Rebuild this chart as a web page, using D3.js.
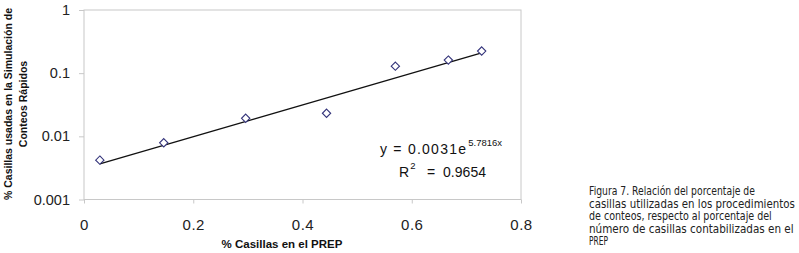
<!DOCTYPE html>
<html>
<head>
    <meta charset="utf-8">
    <script src="https://d3js.org/d3.v7.min.js"></script>
    <style>
        body { margin: 0; background: #fff; }
        .tick text { font-family: Arial, "Liberation Sans", sans-serif; fill: #222; }
    </style>
</head>
<body>
<div id="chart"></div>

<script>

    // data
    var pctPrep = [0.029, 0.146, 0.296, 0.444, 0.570, 0.667, 0.728];
    var pctConteos = [0.0042, 0.0079, 0.0193, 0.0232, 0.129, 0.161, 0.224];
    var xTicks = [0, 0.2, 0.4, 0.6, 0.8];
    var yTicks = [0.001, 0.01, 0.1, 1];
    var yTickLabels = ["0.001", "0.01", "0.1", "1"];

    // exponential trendline as printed on the chart
    var trendA = 0.0031;
    var trendB = 5.7816;
    var rSquared = "0.9654";

    var captionLines = [
        "Figura 7. Relación del porcentaje de",
        "casillas utilizadas en los procedimientos",
        "de conteos, respecto al porcentaje del",
        "número de casillas contabilizadas en el",
        "PREP"
    ];
    // printed width of each caption line, px
    var captionWidths = [166, 206, 183, 205, 19];

    var width = 799, height = 253;
    var plot = { left: 84, right: 521, top: 10, bottom: 199.5 };

    var xScale = d3.scaleLinear()
        .domain([0, 0.8])
        .range([plot.left, plot.right]);

    var yScale = d3.scaleLog()
        .domain([0.001, 1])
        .range([plot.bottom, plot.top]);

    var svg = d3.select('#chart').append('svg')
        .attr('width', width)
        .attr('height', height)
        .style('display', 'block');

    svg.append('rect')
        .attr('width', width).attr('height', height).attr('fill', '#fff');

    // plot area border
    svg.append('rect')
        .attr('x', plot.left).attr('y', plot.top)
        .attr('width', plot.right - plot.left)
        .attr('height', plot.bottom - plot.top)
        .attr('fill', 'none')
        .attr('stroke', '#c8c8c8')
        .attr('stroke-width', 1);

    var yAxis = svg.append('g')
        .attr('transform', 'translate(' + plot.left + ',0)')
        .call(d3.axisLeft(yScale)
            .tickValues(yTicks)
            .tickFormat(function(d, i) { return yTickLabels[i]; })
            .tickSize(5)
            .tickSizeOuter(0)
            .tickPadding(9));
    yAxis.select('.domain').remove();
    yAxis.selectAll('line').attr('stroke', '#c8c8c8');
    yAxis.selectAll('text').style('font-size', '14.5px');

    var xAxis = svg.append('g')
        .attr('transform', 'translate(0,' + plot.bottom + ')')
        .call(d3.axisBottom(xScale)
            .tickValues(xTicks)
            .tickFormat(function(d) { return d === 0 ? "0" : d3.format('.1f')(d); })
            .tickSize(4)
            .tickSizeOuter(0)
            .tickPadding(16));
    xAxis.select('.domain').remove();
    xAxis.selectAll('line').attr('stroke', '#c8c8c8');
    xAxis.selectAll('text').style('font-size', '15px').style('letter-spacing', '0.5px');

    // trendline (straight on a log axis), from first to last x
    var xExtent = d3.extent(pctPrep);
    var trend = xExtent.map(function(x) { return [x, trendA * Math.exp(trendB * x)]; });

    svg.append('path')
        .datum(trend)
        .attr('fill', 'none')
        .attr('stroke', '#111')
        .attr('stroke-width', 1.3)
        .attr('d', d3.line()
            .x(function(d) { return xScale(d[0]); })
            .y(function(d) { return yScale(d[1]); }));

    svg.selectAll('path.point')
        .data(pctPrep)
        .enter()
        .append('path')
        .attr('class', 'point')
        .attr('d', d3.symbol(d3.symbolDiamond2, 44))
        .attr('transform', function(d, i) {
            return 'translate(' + xScale(d) + ',' + yScale(pctConteos[i]) + ')';
        })
        .attr('fill', '#fff')
        .attr('stroke', '#33337a')
        .attr('stroke-width', 1.1);

    // equation labels
    var labelFont = 'Arial, "Liberation Sans", sans-serif';
    var eq = svg.append('text')
        .attr('x', 380).attr('y', 154)
        .style('font-family', labelFont)
        .style('font-size', '14px')
        .attr('fill', '#111');
    eq.append('tspan').text('y = ' + trendA + 'e').attr('textLength', 86);
    eq.append('tspan').text(trendB + 'x')
        .attr('dy', -8).attr('dx', 1)
        .style('font-size', '9.5px');

    var r2 = svg.append('text')
        .attr('x', 399).attr('y', 177)
        .style('font-family', labelFont)
        .style('font-size', '14px')
        .attr('fill', '#111');
    r2.append('tspan').text('R');
    r2.append('tspan').text('2').attr('dy', -8).attr('dx', 1).style('font-size', '9.5px');
    r2.append('tspan').text('=').attr('x', 427).attr('dy', 8);
    r2.append('tspan').text(rSquared).attr('x', 443).attr('textLength', 43);

    // axis titles
    svg.append('text')
        .attr('x', 282).attr('y', 248)
        .attr('text-anchor', 'middle')
        .style('font-family', labelFont)
        .style('font-size', '11.5px')
        .style('font-weight', 'bold')
        .attr('fill', '#111')
        .text('% Casillas en el PREP');

    var yTitle = svg.append('text')
        .attr('transform', 'translate(12,104) rotate(-90)')
        .attr('text-anchor', 'middle')
        .style('font-family', labelFont)
        .style('font-size', '10.5px')
        .style('font-weight', 'bold')
        .attr('fill', '#111');
    yTitle.append('tspan').attr('x', 0).attr('dy', 0).text('% Casillas usadas en la Simulación de');
    yTitle.append('tspan').attr('x', 0).attr('dy', 15).text('Conteos Rápidos');

    // caption: natural text squeezed horizontally to the printed widths
    svg.append('g')
        .style('font-family', '"DejaVu Sans", sans-serif')
        .style('font-size', '12px')
        .attr('fill', '#222')
        .selectAll('text')
        .data(captionLines)
        .enter()
        .append('text')
        .text(function(d) { return d; })
        .attr('transform', function(d, i) {
            var sx = captionWidths[i] / this.getComputedTextLength();
            return 'translate(589,' + (195 + i * 12.5) + ') scale(' + sx + ',1)';
        });

</script>
</body>
</html>
